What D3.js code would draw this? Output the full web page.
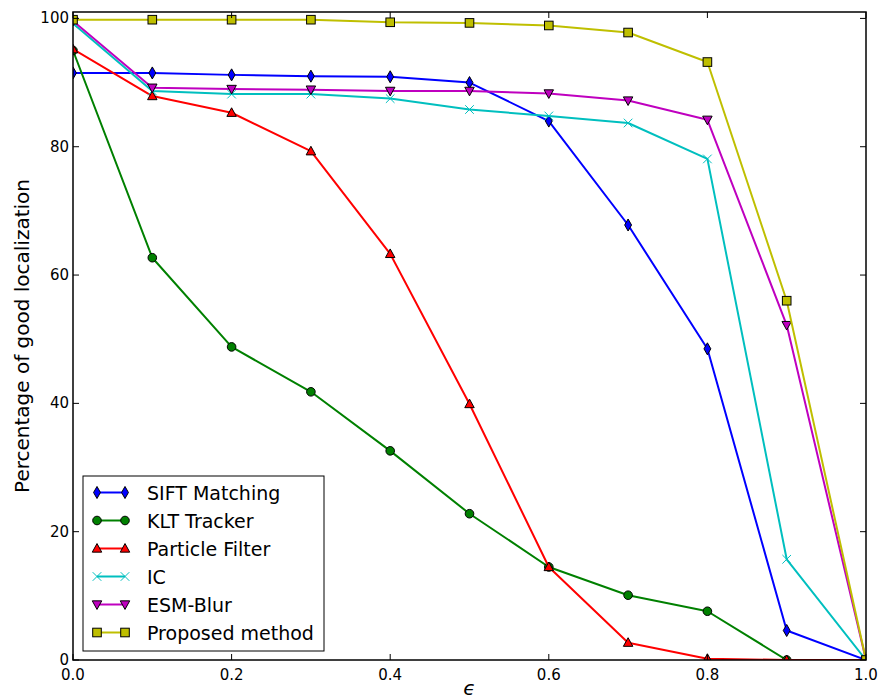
<!DOCTYPE html>
<html>
<head>
<meta charset="UTF-8">
<style>
  body { margin: 0; background: #fff; }
  svg { display: block; }
  text { font-family: 'DejaVu Sans', sans-serif; }
</style>
</head>
<body>
<svg id="chart" width="881" height="698"></svg>
<script src="https://d3js.org/d3.v7.min.js"></script>
<script>
// data
const eps = [0, 0.1, 0.2, 0.3, 0.4, 0.5, 0.6, 0.7, 0.8, 0.9, 1.0];
const sift     = [91.5, 91.5, 91.2, 91.0, 90.9, 90.0, 84.0, 67.8, 48.5, 4.6, 0];
const klt      = [95.0, 62.7, 48.8, 41.8, 32.6, 22.8, 14.5, 10.1, 7.6, 0, 0];
const particle = [95.2, 87.9, 85.3, 79.3, 63.3, 39.9, 14.5, 2.7, 0.2, 0, 0];
const ic       = [99.2, 88.7, 88.2, 88.2, 87.5, 85.8, 84.8, 83.7, 78.1, 15.7, 0];
const esm      = [99.6, 89.2, 89.0, 88.9, 88.7, 88.7, 88.3, 87.2, 84.2, 52.2, 0];
const proposed = [99.8, 99.8, 99.8, 99.8, 99.4, 99.3, 98.9, 97.8, 93.2, 56.0, 0];
const xTicks = [0, 0.2, 0.4, 0.6, 0.8, 1.0];
const yTicks = [0, 20, 40, 60, 80, 100];

const series = [
  { name: "SIFT Matching",   values: sift,     color: "#0000ff", marker: "diamond" },
  { name: "KLT Tracker",     values: klt,      color: "#008000", marker: "circle" },
  { name: "Particle Filter", values: particle, color: "#ff0000", marker: "triUp" },
  { name: "IC",              values: ic,       color: "#00bfbf", marker: "x" },
  { name: "ESM-Blur",        values: esm,      color: "#bf00bf", marker: "triDown" },
  { name: "Proposed method", values: proposed, color: "#bfbf00", marker: "square" }
];

const svg = d3.select("#chart");
const mLeft = 73, mRight = 866, mTop = 12, mBottom = 660;

const x = d3.scaleLinear().domain([0, 1]).range([mLeft, mRight]);
const y = d3.scaleLinear().domain([0, 101]).range([mBottom, mTop]);

svg.append("defs").append("clipPath").attr("id", "plotclip")
  .append("rect").attr("x", mLeft).attr("y", mTop)
  .attr("width", mRight - mLeft).attr("height", mBottom - mTop);

// marker drawing
function drawMarker(g, type, cx, cy, color) {
  const s = 4.3;
  if (type === "circle") {
    g.append("circle").attr("cx", cx).attr("cy", cy).attr("r", s)
      .attr("fill", color).attr("stroke", "#000").attr("stroke-width", 1);
  } else if (type === "square") {
    g.append("rect").attr("x", cx - s).attr("y", cy - s).attr("width", 2 * s).attr("height", 2 * s)
      .attr("fill", color).attr("stroke", "#000").attr("stroke-width", 1);
  } else if (type === "diamond") {
    const pts = [[cx, cy - s * 1.4], [cx + s * 0.8, cy], [cx, cy + s * 1.4], [cx - s * 0.8, cy]];
    g.append("polygon").attr("points", pts.join(" "))
      .attr("fill", color).attr("stroke", "#000").attr("stroke-width", 1);
  } else if (type === "triUp") {
    const pts = [[cx, cy - s * 1.15], [cx + s * 1.1, cy + s * 0.85], [cx - s * 1.1, cy + s * 0.85]];
    g.append("polygon").attr("points", pts.join(" "))
      .attr("fill", color).attr("stroke", "#000").attr("stroke-width", 1);
  } else if (type === "triDown") {
    const pts = [[cx, cy + s * 1.15], [cx + s * 1.1, cy - s * 0.85], [cx - s * 1.1, cy - s * 0.85]];
    g.append("polygon").attr("points", pts.join(" "))
      .attr("fill", color).attr("stroke", "#000").attr("stroke-width", 1);
  } else if (type === "x") {
    g.append("path")
      .attr("d", `M${cx - s},${cy - s}L${cx + s},${cy + s}M${cx - s},${cy + s}L${cx + s},${cy - s}`)
      .attr("stroke", color).attr("stroke-width", 1).attr("fill", "none");
  }
}

// series
const plot = svg.append("g").attr("clip-path", "url(#plotclip)");
const line = d3.line().x((d, i) => x(eps[i])).y(d => y(d));
series.forEach(s => {
  const g = plot.append("g");
  g.append("path").datum(s.values).attr("d", line)
    .attr("fill", "none").attr("stroke", s.color).attr("stroke-width", 2)
    .attr("stroke-linejoin", "round");
  s.values.forEach((v, i) => drawMarker(g, s.marker, x(eps[i]), y(v), s.color));
});

// frame
svg.append("rect").attr("x", mLeft).attr("y", mTop)
  .attr("width", mRight - mLeft).attr("height", mBottom - mTop)
  .attr("fill", "none").attr("stroke", "#000").attr("stroke-width", 1.5);

// ticks (inward, all four sides)
const tl = 6;
const ticks = svg.append("g").attr("stroke", "#000").attr("stroke-width", 1);
xTicks.forEach(t => {
  ticks.append("line").attr("x1", x(t)).attr("x2", x(t)).attr("y1", mBottom).attr("y2", mBottom - tl);
  ticks.append("line").attr("x1", x(t)).attr("x2", x(t)).attr("y1", mTop).attr("y2", mTop + tl);
  svg.append("text").attr("x", x(t)).attr("y", mBottom + 20).attr("text-anchor", "middle")
    .attr("font-size", 15).text(t.toFixed(1));
});
yTicks.forEach(t => {
  ticks.append("line").attr("y1", y(t)).attr("y2", y(t)).attr("x1", mLeft).attr("x2", mLeft + tl);
  ticks.append("line").attr("y1", y(t)).attr("y2", y(t)).attr("x1", mRight).attr("x2", mRight - tl);
  svg.append("text").attr("x", mLeft - 4).attr("y", y(t) + 5).attr("text-anchor", "end")
    .attr("font-size", 15).text(t);
});

// axis labels
svg.append("text").attr("x", (mLeft + mRight) / 2).attr("y", 695)
  .attr("text-anchor", "middle").attr("font-size", 20).attr("font-style", "italic").text("ϵ");
svg.append("text")
  .attr("transform", `translate(29,${(mTop + mBottom) / 2}) rotate(-90)`)
  .attr("text-anchor", "middle").attr("font-size", 20).text("Percentage of good localization");

// legend
const lg = svg.append("g");
lg.append("rect").attr("x", 83).attr("y", 476).attr("width", 241).attr("height", 175)
  .attr("fill", "#fff").attr("stroke", "#000").attr("stroke-width", 1);
series.forEach((s, i) => {
  const ly = 492.5 + i * 28;
  lg.append("line").attr("x1", 97).attr("x2", 125).attr("y1", ly).attr("y2", ly)
    .attr("stroke", s.color).attr("stroke-width", 2);
  drawMarker(lg, s.marker, 97, ly, s.color);
  drawMarker(lg, s.marker, 125, ly, s.color);
  lg.append("text").attr("x", 147).attr("y", ly + 7).attr("font-size", 19).text(s.name);
});
</script>
</body>
</html>
